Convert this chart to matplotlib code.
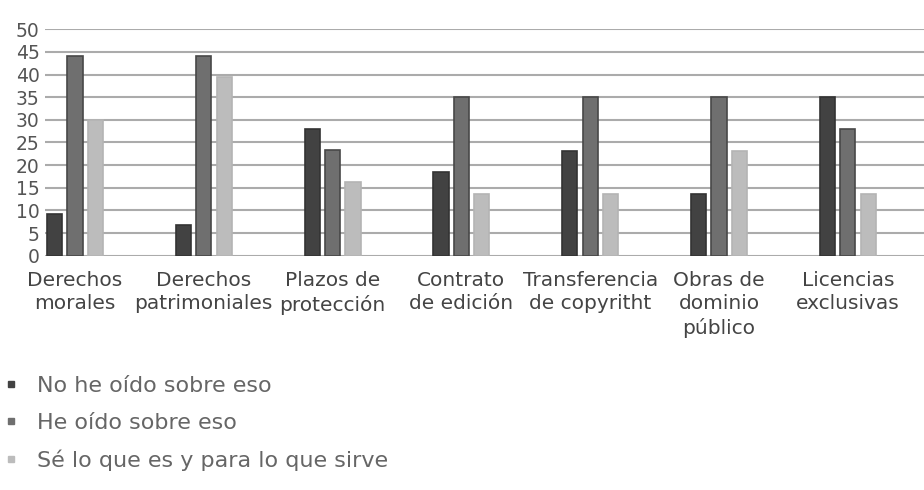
import matplotlib
matplotlib.use("Agg")
import matplotlib.pyplot as plt
from matplotlib.lines import Line2D
import numpy as np

categories = ["Derechos\nmorales", "Derechos\npatrimoniales", "Plazos de\nprotección",
              "Contrato\nde edición", "Transferencia\nde copyritht", "Obras de\ndominio\npúblico",
              "Licencias\nexclusivas"]
series_names = ["No he oído sobre eso", "He oído sobre eso", "Sé lo que es y para lo que sirve"]
no_he_oido = [9.2, 6.7, 28.0, 18.4, 23.2, 13.6, 35.0]
he_oido = [44.0, 44.0, 23.4, 35.0, 35.0, 35.0, 28.0]
se_lo_que_es = [30.0, 39.4, 16.2, 13.6, 13.6, 23.2, 13.6]
y_ticks = [0, 5, 10, 15, 20, 25, 30, 35, 40, 45, 50]

fills = ["#424242", "#6f6f6f", "#bcbcbc"]
edges = ["#333333", "#484848", "#b4b4b4"]

fig = plt.figure(figsize=(9.24, 4.90), dpi=100)
ax = fig.add_axes([45/924, 1-255.7/490, 1-45/924, (255.7-29.3)/490])

x = np.arange(len(categories))
w = 0.118
off = 0.158
for i, vals in enumerate([no_he_oido, he_oido, se_lo_que_es]):
    ax.bar(x + (i-1)*off, vals, width=w, color=fills[i], edgecolor=edges[i], linewidth=1.2, zorder=3)

ax.set_ylim(0, 50)
ax.set_xlim(-0.233, -0.233 + 879/128.8)
ax.set_yticks(y_ticks)
ax.yaxis.grid(True, color="#ababab", linewidth=1.5, zorder=0)
ax.set_axisbelow(True)
for s in ax.spines.values():
    s.set_visible(False)
ax.tick_params(axis="y", length=0, pad=4, labelsize=13.5, labelcolor="#555555")
ax.set_xticks(x)
ax.set_xticklabels(categories, fontsize=14.5, color="#444444", linespacing=1.3)
ax.tick_params(axis="x", length=0, pad=11)
for t in ax.get_yticklabels():
    t.set_clip_on(False)

handles = [Line2D([], [], linestyle="none", marker="s", markersize=5,
                  markerfacecolor=fills[i], markeredgecolor=fills[i]) for i in range(3)]
fig.legend(handles, series_names, loc="upper left", bbox_to_anchor=(4/924, 1-376/490),
           frameon=False, fontsize=16, labelcolor="#666666", handlelength=0.6,
           handletextpad=0.9, labelspacing=0.75, borderpad=0, borderaxespad=0)

fig.savefig("out.png", dpi=100)
